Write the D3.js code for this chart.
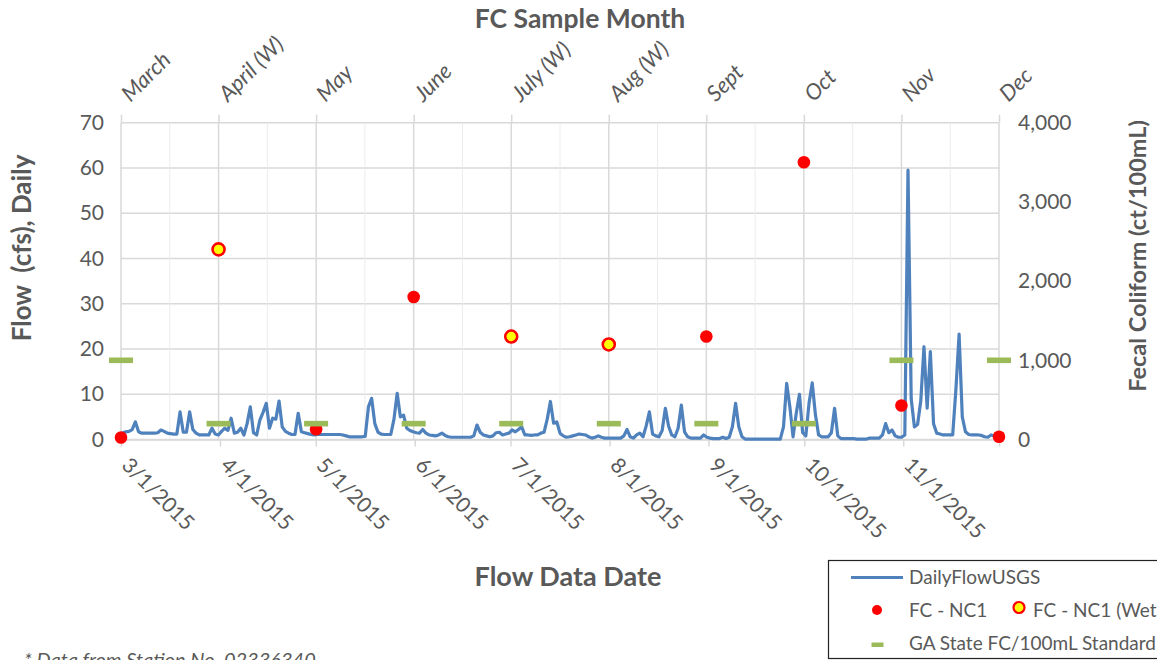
<!DOCTYPE html>
<html>
<head>
<meta charset="utf-8">
<script src="https://cdn.jsdelivr.net/npm/d3@7"></script>
<style>
    body { margin: 0; background: #fff; }
    svg text { font-family: Lato, "Open Sans", sans-serif; fill: #595959; }
</style>
</head>
<body>
<svg id="chart" width="1157" height="660"></svg>
<script>
// daily flow (cfs), one array per month, Mar 1 .. Nov 30 2015
let flowMar = [1.5, 1.7, 1.8, 2.2, 3.9, 1.7, 1.4, 1.4, 1.4, 1.4,
    1.4, 1.5, 2.1, 1.8, 1.4, 1.3, 1.2, 1.2, 6.1, 1.6,
    1.6, 6.1, 2.2, 1.4, 1.0, 1.0, 1.0, 1.0, 2.5, 1.2, 1.0]
let flowApr = [1.8, 2.5, 2.0, 4.7, 1.4, 1.6, 2.5, 1.0, 3.5, 7.2,
    1.5, 1.0, 4.3, 6.0, 8.0, 2.5, 4.7, 4.5, 8.5, 2.8,
    1.8, 1.4, 1.1, 1.1, 5.8, 1.7, 1.5, 1.3, 1.1, 1.0]
let flowMay = [1.1, 1.1, 1.1, 1.1, 1.1, 1.1, 1.1, 1.1, 1.0, 0.8,
    0.6, 0.6, 0.6, 0.6, 0.6, 0.7, 7.2, 9.1, 3.5, 1.6,
    1.2, 1.1, 1.1, 1.1, 4.5, 10.2, 5.0, 5.4, 2.5, 2.0, 1.7]
let flowJun = [1.5, 1.4, 2.2, 1.4, 1.0, 0.9, 0.8, 1.0, 1.4, 0.9,
    0.6, 0.5, 0.5, 0.5, 0.5, 0.5, 0.5, 0.5, 0.8, 3.2,
    1.6, 1.0, 0.8, 0.6, 0.8, 1.5, 1.6, 1.0, 1.2, 1.4]
let flowJul = [2.1, 1.7, 2.2, 2.8, 1.0, 1.0, 0.9, 1.0, 1.0, 1.4,
    1.6, 4.5, 8.4, 3.6, 3.9, 1.4, 0.8, 0.5, 0.6, 0.8,
    1.0, 1.2, 1.1, 1.0, 0.6, 0.3, 0.5, 0.8, 0.5, 0.3, 0.3]
let flowAug = [0.3, 0.3, 0.3, 0.3, 0.8, 2.2, 0.6, 0.3, 1.0, 1.4,
    0.6, 3.0, 6.1, 1.2, 0.8, 0.6, 2.0, 6.9, 3.0, 1.0,
    0.6, 2.5, 7.6, 1.7, 0.6, 0.3, 0.3, 0.3, 0.3, 1.0, 0.5]
let flowSep = [0.3, 0.2, 0.2, 0.2, 0.5, 0.2, 0.5, 2.8, 8.0, 2.8,
    0.6, 0.1, 0.1, 0.1, 0.1, 0.1, 0.1, 0.1, 0.1, 0.1,
    0.1, 0.1, 0.1, 2.8, 12.4, 7.2, 0.6, 5.8, 10.0, 1.5]
let flowOct = [0.8, 8.0, 12.5, 5.5, 1.0, 0.6, 0.6, 0.6, 1.5, 6.9,
    0.8, 0.2, 0.2, 0.2, 0.2, 0.2, 0.1, 0.1, 0.1, 0.1,
    0.3, 0.3, 0.3, 0.3, 1.0, 3.5, 1.5, 2.1, 0.8, 0.5, 0.5]
let flowNov = [1.0, 59.5, 9.0, 2.8, 3.3, 8.5, 20.5, 6.9, 19.4, 3.5,
    1.4, 1.2, 1.0, 1.0, 1.0, 1.0, 11.0, 23.3, 5.0, 1.7,
    1.1, 1.0, 1.0, 1.0, 0.9, 0.6, 0.5, 1.0, 0.8, 0.6]

// fecal coliform samples, ct/100mL
let sampleMonths = ['March', 'April (W)', 'May', 'June', 'July (W)', 'Aug (W)', 'Sept', 'Oct', 'Nov', 'Dec']
let fcValues = [25, 2400, 130, 1800, 1300, 1200, 1300, 3500, 430, 35]
let wetMonths = ['April (W)', 'July (W)', 'Aug (W)']
let fcStandard = [1000, 200, 200, 200, 200, 200, 200, 200, 1000, 1000]

let flowTicks = [0, 10, 20, 30, 40, 50, 60, 70]
let fcTicks = [0, 1000, 2000, 3000, 4000]
let dateTicks = ['2015-03-01', '2015-04-01', '2015-05-01', '2015-06-01', '2015-07-01',
    '2015-08-01', '2015-09-01', '2015-10-01', '2015-11-01']

function init() {
    let svg = d3.select('#chart')
    let left = 121, right = 999, top = 122.7, bottom = 439.5

    let flow = [].concat(flowMar, flowApr, flowMay, flowJun, flowJul, flowAug, flowSep, flowOct, flowNov)
    let start = new Date(2015, 2, 1)
    let daily = flow.map((v, i) => ({date: d3.timeHour.offset(d3.timeDay.offset(start, i), 12), value: v}))

    let xDate = d3.scaleTime().domain([start, new Date(2015, 11, 1)]).range([left, right])
    let xMonth = d3.scalePoint().domain(sampleMonths).range([left, right])
    let yFlow = d3.scaleLinear().domain([0, 70]).range([bottom, top])
    let yFc = d3.scaleLinear().domain([0, 4000]).range([bottom, top])

    // gridlines
    let grid = svg.append('g')
    grid.selectAll('line.h')
        .data(flowTicks)
        .enter()
        .append('line')
        .attr('x1', left).attr('x2', right)
        .attr('y1', d => yFlow(d)).attr('y2', d => yFlow(d))
        .attr('stroke', '#d9d9d9')
        .attr('stroke-width', 1.5)
    let mids = sampleMonths.slice(1).map((m, i) => (xMonth(m) + xMonth(sampleMonths[i])) / 2)
    grid.selectAll('line.minor')
        .data(mids)
        .enter()
        .append('line')
        .attr('x1', d => d).attr('x2', d => d)
        .attr('y1', top).attr('y2', bottom)
        .attr('stroke', '#ececec')
        .attr('stroke-width', 1)
    grid.selectAll('line.major')
        .data(sampleMonths)
        .enter()
        .append('line')
        .attr('x1', d => xMonth(d)).attr('x2', d => xMonth(d))
        .attr('y1', top).attr('y2', bottom)
        .attr('stroke', '#d9d9d9')
        .attr('stroke-width', 1.5)

    // top axis: sample months
    let topAxis = svg.append('g')
        .attr('transform', `translate(0, ${top})`)
        .call(d3.axisTop(xMonth).tickSize(8))
    topAxis.select('.domain').remove()
    topAxis.selectAll('line').attr('stroke', '#d9d9d9').attr('stroke-width', 1.5)
    topAxis.selectAll('text')
        .attr('x', 0).attr('y', 0).attr('dy', null)
        .attr('text-anchor', 'start')
        .attr('transform', 'translate(9, -20) rotate(-45)')
        .attr('font-size', 22)
        .attr('font-style', 'italic')
        .attr('fill', '#595959')

    // bottom axis: flow data date
    let fmt = d3.timeFormat('%-m/%-d/%Y')
    let bottomAxis = svg.append('g')
        .attr('transform', `translate(0, ${bottom})`)
        .call(d3.axisBottom(xDate).tickValues(dateTicks.map(d => d3.timeParse('%Y-%m-%d')(d))).tickSize(7).tickFormat(fmt))
    bottomAxis.select('.domain').attr('stroke', '#d9d9d9').attr('stroke-width', 1.5)
    bottomAxis.selectAll('line').attr('stroke', '#d9d9d9').attr('stroke-width', 1.5)
    bottomAxis.selectAll('text')
        .attr('x', 0).attr('y', 0).attr('dy', null)
        .attr('text-anchor', 'start')
        .attr('transform', 'translate(-1, 27) rotate(45)')
        .attr('font-size', 21)
        .attr('fill', '#595959')

    // left axis
    let leftAxis = svg.append('g')
        .attr('transform', `translate(${left}, 0)`)
        .call(d3.axisLeft(yFlow).tickValues(flowTicks).tickSize(0).tickPadding(17))
    leftAxis.select('.domain').remove()
    leftAxis.selectAll('text').attr('font-size', 21).attr('fill', '#595959')

    // right axis
    let rightAxis = svg.append('g')
        .attr('transform', `translate(${right}, 0)`)
        .call(d3.axisRight(yFc).tickValues(fcTicks).tickSize(0).tickPadding(19).tickFormat(d3.format(',')))
    rightAxis.select('.domain').remove()
    rightAxis.selectAll('text').attr('font-size', 21).attr('fill', '#595959')

    // flow line
    let line = d3.line().x(d => xDate(d.date)).y(d => yFlow(d.value))
    svg.append('path')
        .datum(daily)
        .attr('d', line)
        .attr('fill', 'none')
        .attr('stroke', '#4f81bd')
        .attr('stroke-width', 3.2)
        .attr('stroke-linejoin', 'round')

    let samples = sampleMonths.map((m, i) => ({month: m, fc: fcValues[i], std: fcStandard[i], wet: wetMonths.includes(m)}))

    svg.selectAll('circle.fc')
        .data(samples.filter(d => !d.wet))
        .enter()
        .append('circle')
        .attr('cx', d => xMonth(d.month))
        .attr('cy', d => yFc(d.fc))
        .attr('r', 6.3)
        .attr('fill', '#ff0000')

    svg.selectAll('circle.wet')
        .data(samples.filter(d => d.wet))
        .enter()
        .append('circle')
        .attr('cx', d => xMonth(d.month))
        .attr('cy', d => yFc(d.fc))
        .attr('r', 6)
        .attr('fill', '#ffff00')
        .attr('stroke', '#ff0000')
        .attr('stroke-width', 2.6)

    svg.selectAll('rect.std')
        .data(samples)
        .enter()
        .append('rect')
        .attr('x', d => xMonth(d.month) - 12)
        .attr('y', d => yFc(d.std) - 2.8)
        .attr('width', 24)
        .attr('height', 5.6)
        .attr('fill', '#9bbb59')

    // titles
    svg.append('text')
        .text('FC Sample Month')
        .attr('x', 580).attr('y', 28)
        .attr('text-anchor', 'middle')
        .attr('font-size', 26.5).attr('font-weight', 'bold')
    svg.append('text')
        .text('Flow Data Date')
        .attr('x', 568).attr('y', 586)
        .attr('text-anchor', 'middle')
        .attr('font-size', 27).attr('font-weight', 'bold')
    svg.append('text')
        .text('Flow  (cfs), Daily')
        .attr('transform', 'translate(31, 248) rotate(-90)')
        .attr('text-anchor', 'middle')
        .attr('font-size', 26).attr('font-weight', 'bold')
        .style('white-space', 'pre')
    svg.append('text')
        .text('Fecal Coliform (ct/100mL)')
        .attr('transform', 'translate(1146, 256) rotate(-90)')
        .attr('text-anchor', 'middle')
        .attr('font-size', 23.5).attr('font-weight', 'bold')

    // legend
    let legend = svg.append('g')
    legend.append('rect')
        .attr('x', 828.5).attr('y', 560.5)
        .attr('width', 340).attr('height', 98)
        .attr('fill', 'white')
        .attr('stroke', '#222')
        .attr('stroke-width', 1.2)
    legend.append('line')
        .attr('x1', 851).attr('x2', 903).attr('y1', 577.5).attr('y2', 577.5)
        .attr('stroke', '#4f81bd').attr('stroke-width', 3)
    legend.append('circle')
        .attr('cx', 877).attr('cy', 610).attr('r', 5)
        .attr('fill', '#ff0000')
    legend.append('circle')
        .attr('cx', 1019).attr('cy', 607.5).attr('r', 5.5)
        .attr('fill', '#ffff00').attr('stroke', '#ff0000').attr('stroke-width', 2.2)
    legend.append('rect')
        .attr('x', 871.5).attr('y', 642.5).attr('width', 12).attr('height', 4.5)
        .attr('fill', '#9bbb59')
    let legendText = [
        {label: 'DailyFlowUSGS', x: 909, y: 584},
        {label: 'FC - NC1', x: 909, y: 617},
        {label: 'FC - NC1 (Wet)', x: 1033, y: 617},
        {label: 'GA State FC/100mL Standard', x: 909, y: 650}
    ]
    legend.selectAll('text')
        .data(legendText)
        .enter()
        .append('text')
        .text(d => d.label)
        .attr('x', d => d.x).attr('y', d => d.y)
        .attr('font-size', 19)

    // footnote, cut off by the bottom edge
    svg.append('text')
        .text('* Data from Station No. 02336340')
        .attr('x', 24).attr('y', 667)
        .attr('font-size', 20)
        .attr('font-style', 'italic')
        .attr('fill', '#222')
}

onload = function () {
    init()
}
</script>
</body>
</html>
